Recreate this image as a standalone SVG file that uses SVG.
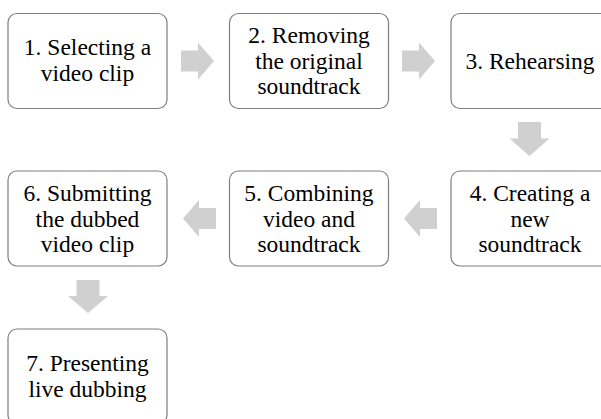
<svg xmlns="http://www.w3.org/2000/svg" width="601" height="419" viewBox="0 0 601 419">
  <style>
    .box { fill: #ffffff; stroke: #7f7f7f; stroke-width: 1.2; }
    .lbl { font-family: "Liberation Serif", "Times New Roman", serif; font-size: 23.5px; fill: #000000; text-anchor: middle; }
    .arrow { fill: #d0d0d0; stroke: none; }
  </style>
  <rect width="601" height="419" fill="#ffffff"/>

  <!-- process flow arrows -->
  <g id="connectors">
    <path class="arrow" d="M181,50.5 H198 V42.5 L214,61 L198,79.5 V71.5 H181 Z"/>
    <path class="arrow" d="M402,50.5 H419 V42.5 L435,61 L419,79.5 V71.5 H402 Z"/>
    <path class="arrow" d="M518,122 V138.5 H509.5 L529.5,156 L549.5,138.5 H541 V122 Z"/>
    <path class="arrow" d="M437,208 H420 V200 L404,218.5 L420,237 V229 H437 Z"/>
    <path class="arrow" d="M216,208 H199 V200 L183,218.5 L199,237 V229 H216 Z"/>
    <path class="arrow" d="M76.5,280 V296 H68 L88,313 L108,296 H99.5 V280 Z"/>
  </g>

  <g id="step1">
    <rect class="box" x="8" y="13.5" width="159" height="95" rx="9"/>
    <text class="lbl"><tspan x="87.5" y="55">1. Selecting a</tspan><tspan x="87.5" y="80.5">video clip</tspan></text>
  </g>
  <g id="step2">
    <rect class="box" x="229.5" y="13.5" width="159" height="95" rx="9"/>
    <text class="lbl"><tspan x="309" y="43">2. Removing</tspan><tspan x="309" y="68.5">the original</tspan><tspan x="309" y="94">soundtrack</tspan></text>
  </g>
  <g id="step3">
    <rect class="box" x="451" y="13.5" width="159" height="95" rx="9"/>
    <text class="lbl"><tspan x="530" y="69">3. Rehearsing</tspan></text>
  </g>
  <g id="step4">
    <rect class="box" x="451" y="171" width="159" height="95" rx="9"/>
    <text class="lbl"><tspan x="530" y="201">4. Creating a</tspan><tspan x="530" y="226.5">new</tspan><tspan x="530" y="252">soundtrack</tspan></text>
  </g>
  <g id="step5">
    <rect class="box" x="229.5" y="171" width="159" height="95" rx="9"/>
    <text class="lbl"><tspan x="309" y="201">5. Combining</tspan><tspan x="309" y="226.5">video and</tspan><tspan x="309" y="252">soundtrack</tspan></text>
  </g>
  <g id="step6">
    <rect class="box" x="8" y="171" width="159" height="95" rx="9"/>
    <text class="lbl"><tspan x="87.5" y="201">6. Submitting</tspan><tspan x="87.5" y="226.5">the dubbed</tspan><tspan x="87.5" y="252">video clip</tspan></text>
  </g>
  <g id="step7">
    <rect class="box" x="8" y="329" width="159" height="95" rx="9"/>
    <text class="lbl"><tspan x="87.5" y="371">7. Presenting</tspan><tspan x="87.5" y="397">live dubbing</tspan></text>
  </g>
</svg>
